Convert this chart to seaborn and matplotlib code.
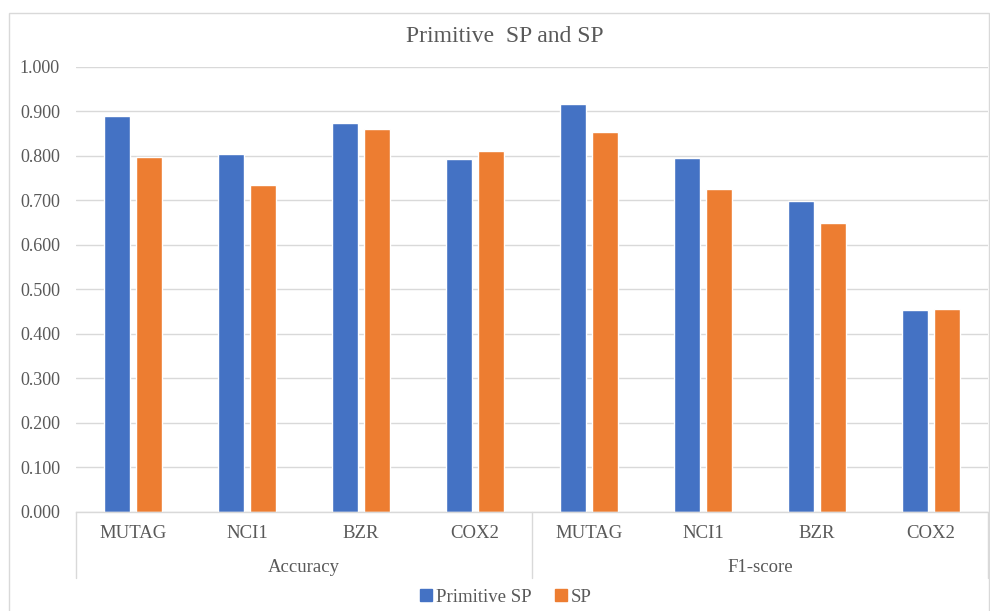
import matplotlib
matplotlib.use("Agg")
import matplotlib.pyplot as plt
from matplotlib.lines import Line2D
from matplotlib.patches import Rectangle
import seaborn as sns
import pandas as pd

# Scores per dataset, grouped by metric
datasets = ["MUTAG", "NCI1", "BZR", "COX2"]
metrics = ["Accuracy", "F1-score"]
methods = ["Primitive SP", "SP"]
primitive_acc = [0.889, 0.804, 0.874, 0.793]
sp_acc = [0.796, 0.734, 0.859, 0.811]
primitive_f1 = [0.915, 0.794, 0.699, 0.453]
sp_f1 = [0.852, 0.724, 0.649, 0.456]
yticks = [0.0, 0.1, 0.2, 0.3, 0.4, 0.5, 0.6, 0.7, 0.8, 0.9, 1.0]

colors = {"Primitive SP": "#4472C4", "SP": "#ED7D31"}
text_color = "#595959"
line_color = "#D9D9D9"
serif = ["Liberation Serif", "DejaVu Serif"]

rows = []
values = {
    ("Accuracy", "Primitive SP"): primitive_acc,
    ("Accuracy", "SP"): sp_acc,
    ("F1-score", "Primitive SP"): primitive_f1,
    ("F1-score", "SP"): sp_f1,
}
for metric in metrics:
    for method in methods:
        for ds, v in zip(datasets, values[(metric, method)]):
            rows.append({"cat": f"{metric}|{ds}", "dataset": ds,
                         "metric": metric, "method": method, "value": v})
df = pd.DataFrame(rows)
order = [f"{m}|{d}" for m in metrics for d in datasets]

sns.set_style("white")
plt.rcParams["font.family"] = serif

W, H = 990, 611
fig = plt.figure(figsize=(W / 100, H / 100), dpi=100)
ax_left, ax_right, ax_top, ax_bottom = 76, 988, 66.5, 512
ax = fig.add_axes([ax_left / W, 1 - ax_bottom / H,
                   (ax_right - ax_left) / W, (ax_bottom - ax_top) / H])

sns.barplot(data=df, x="cat", y="value", hue="method", order=order,
            hue_order=methods, palette=colors, width=0.56, gap=0.19,
            saturation=1, legend=False, ax=ax)

ax.set_ylim(0, 1.0)
ax.set_xlim(-0.5, len(order) - 0.5)
ax.set_yticks(yticks)
ax.set_yticklabels([f"{t:.3f}" for t in yticks])
ax.set_xticks(range(len(order)))
ax.set_xticklabels([c.split("|")[1] for c in order])
ax.set_xlabel("")
ax.set_ylabel("")
ax.tick_params(axis="y", length=0, pad=11.5, labelsize=13, labelcolor=text_color)
ax.tick_params(axis="x", length=0, pad=9, labelsize=13.5, labelcolor=text_color)
ax.grid(axis="y", color=line_color, linewidth=1)
ax.set_axisbelow(True)
for side in ["top", "right", "left"]:
    ax.spines[side].set_visible(False)
ax.spines["bottom"].set_color(line_color)
ax.spines["bottom"].set_linewidth(1)

# Two-level category axis: group separators and metric labels
sep_depth = -(578 - ax_bottom) / (ax_bottom - ax_top)
trans = ax.get_xaxis_transform()
for xpos in [-0.5, 3.5, 7.5]:
    ax.plot([xpos, xpos], [0, sep_depth], transform=trans, color=line_color,
            linewidth=1, clip_on=False)
label_y = -(567 - ax_bottom) / (ax_bottom - ax_top)
for i, metric in enumerate(metrics):
    ax.text(i * 4 + 1.5, label_y, metric, transform=trans, ha="center",
            va="center", fontsize=13.5, color=text_color)

# Chart border
fig.patches.append(Rectangle((9 / W, -0.05), (989 - 9) / W, 1.05 - 13 / H,
                             transform=fig.transFigure, fill=False,
                             edgecolor=line_color, linewidth=1))

fig.text(505 / W, 1 - 37 / H, "Primitive  SP and SP", ha="center",
         va="center", fontsize=17, color=text_color)

handles = [Line2D([], [], marker="s", linestyle="none", markersize=8,
                  markerfacecolor=colors[m], markeredgecolor=colors[m])
           for m in methods]
leg = fig.legend(handles, methods, loc="center",
                 bbox_to_anchor=(505 / W, 1 - 597 / H), ncol=2, frameon=False,
                 fontsize=13.5, handletextpad=0.1, columnspacing=1.2,
                 handlelength=0.8)
for t in leg.get_texts():
    t.set_fontfamily(serif)
    t.set_color(text_color)

fig.savefig("out.png", dpi=100)
